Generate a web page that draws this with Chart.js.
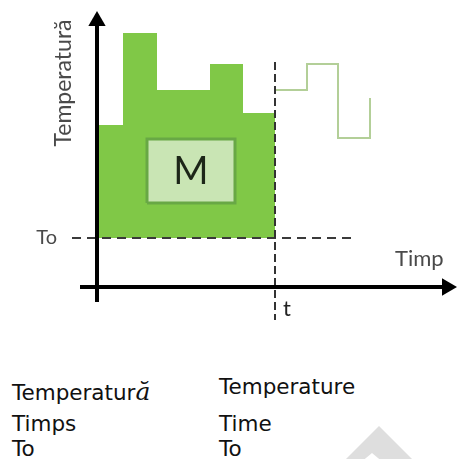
<!DOCTYPE html>
<html>
<head>
<meta charset="utf-8">
<script src="https://cdn.jsdelivr.net/npm/chart.js@4.4.1/dist/chart.umd.min.js"></script>
<style>
  html, body { margin: 0; padding: 0; background: #fff; }
  body { width: 457px; height: 459px; position: relative; overflow: hidden; font-family: "DejaVu Sans", sans-serif; }
  #c { position: absolute; left: 0; top: 0; }
  .t { position: absolute; font-size: 21.5px; line-height: 20px; color: #111; white-space: nowrap; }
  .it { font-family: "DejaVu Serif", serif; font-style: italic; font-size: 25px; }
  #wm { position: absolute; left: 0; top: 0; }
</style>
</head>
<body>
<svg id="wm" width="457" height="459"><polygon points="379,426 421,468 390,468 372,453 354,468 337,468" fill="#dedede"/></svg>
<canvas id="c" width="457" height="320"></canvas>
<div class="t" style="left:12px;top:382px">Temperatur<span class="it">ă</span></div>
<div class="t" style="left:219px;top:377px">Temperature</div>
<div class="t" style="left:12px;top:414px">Timps</div>
<div class="t" style="left:219px;top:414px">Time</div>
<div class="t" style="left:12px;top:439px">To</div>
<div class="t" style="left:219px;top:439px">To</div>
<script>
// ---- data (time units, temperature units) ----
const stepTime  = [0, 2.6, 6.0, 11.3, 14.6, 17.8];
const stepTemp  = [16.2, 25.4, 19.7, 22.3, 17.4, 17.4];
const laterTime = [17.8, 21.0, 24.1, 27.3];
const laterTemp = [19.7, 22.3, 14.9, 18.9];
const T0 = 4.9;
const tMark = 17.8;
const boxTime = [5.0, 13.8];
const boxTemp = [8.4, 14.8];
const timeAxisRange = [-1.7, 35.0];
const tempAxisRange = [-1.5, 26.6];
const t0LineRange = [-2.5, 25.6];
const tLineRange = [22.5, -3.3];
const labelTemp = "Temperatură";
const labelTime = "Timp";
const labelT0 = "To";
const labelT = "t";
const labelM = "M";

const pts = (xs, ys) => xs.map((x, i) => ({x, y: ys[i]}));

const datasets = [
  { // accumulated area
    data: pts(stepTime, stepTemp), stepped: 'before',
    borderColor: 'rgba(0,0,0,0)', borderWidth: 0, pointRadius: 0,
    backgroundColor: '#80c847', fill: {value: T0}, order: 10
  },
  { // mean box
    data: pts([boxTime[0], boxTime[0], boxTime[1], boxTime[1], boxTime[0]],
              [boxTemp[0], boxTemp[1], boxTemp[1], boxTemp[0], boxTemp[0]]),
    borderColor: '#68a845', borderWidth: 3, pointRadius: 0,
    backgroundColor: '#c9e5b4', fill: 'shape', order: 9
  },
  { // later evolution
    data: pts(laterTime, laterTemp), stepped: 'before',
    borderColor: '#b3cf98', borderWidth: 2, pointRadius: 0, fill: false, order: 8
  },
  { // To line
    data: pts(t0LineRange, [T0, T0]),
    borderColor: '#3a3a3a', borderWidth: 2, borderDash: [9, 6], pointRadius: 0, fill: false, order: 6
  },
  { // t line
    data: pts([tMark, tMark], tLineRange),
    borderColor: '#333', borderWidth: 2, borderDash: [8, 4], pointRadius: 0, fill: false, order: 5
  },
  { // y axis
    data: pts([0, 0], tempAxisRange),
    borderColor: '#000', borderWidth: 4, fill: false, order: 2,
    pointRadius: [0, 10], pointStyle: 'triangle', pointRotation: 0,
    pointBackgroundColor: '#000', pointBorderColor: '#000', pointBorderWidth: 0
  },
  { // x axis
    data: pts(timeAxisRange, [0, 0]),
    borderColor: '#000', borderWidth: 4, fill: false, order: 1,
    pointRadius: [0, 10], pointStyle: 'triangle', pointRotation: 90,
    pointBackgroundColor: '#000', pointBorderColor: '#000', pointBorderWidth: 0
  }
];
datasets.forEach(d => { d.clip = false; d.tension = 0; });

const labelsPlugin = {
  id: 'labels',
  afterDatasetsDraw(chart) {
    const {ctx, scales: {x, y}} = chart;
    ctx.save();
    // M
    ctx.fillStyle = '#1c2618';
    ctx.font = '38px Lato';
    ctx.textAlign = 'center'; ctx.textBaseline = 'middle';
    ctx.fillText(labelM, x.getPixelForValue((boxTime[0] + boxTime[1]) / 2), y.getPixelForValue((boxTemp[0] + boxTemp[1]) / 2) + 1);
    // axis labels
    ctx.fillStyle = '#4a4a4a';
    ctx.font = '20px Lato';
    ctx.textAlign = 'right';
    ctx.fillText(labelT0, x.getPixelForValue(t0LineRange[0]) - 15, y.getPixelForValue(T0));
    ctx.textAlign = 'left';
    ctx.textBaseline = 'alphabetic';
    ctx.font = '22px Lato';
    ctx.fillText(labelTime, x.getPixelForValue(29.8), y.getPixelForValue(2.1));
    ctx.fillStyle = '#222';
    ctx.font = '22px Lato';
    ctx.fillText(labelT, x.getPixelForValue(tMark) + 8, y.getPixelForValue(-2.9));
    // rotated y label
    ctx.save();
    ctx.fillStyle = '#4a4a4a';
    ctx.font = '23px Lato';
    ctx.textBaseline = 'middle';
    ctx.translate(x.getPixelForValue(-3.3), y.getPixelForValue(20.4));
    ctx.rotate(-Math.PI / 2);
    ctx.textAlign = 'center';
    ctx.fillText(labelTemp, 0, 0);
    ctx.restore();
    ctx.restore();
  }
};

new Chart(document.getElementById('c'), {
  type: 'line',
  data: { datasets },
  options: {
    responsive: false,
    animation: false,
    events: [],
    layout: { padding: 0, autoPadding: false },
    plugins: { legend: { display: false }, tooltip: { enabled: false } },
    scales: {
      x: { type: 'linear', min: -9.7, max: 36.0, display: false },
      y: { type: 'linear', min: -3.3, max: 28.7, display: false }
    }
  },
  plugins: [labelsPlugin]
});
</script>
</body>
</html>
